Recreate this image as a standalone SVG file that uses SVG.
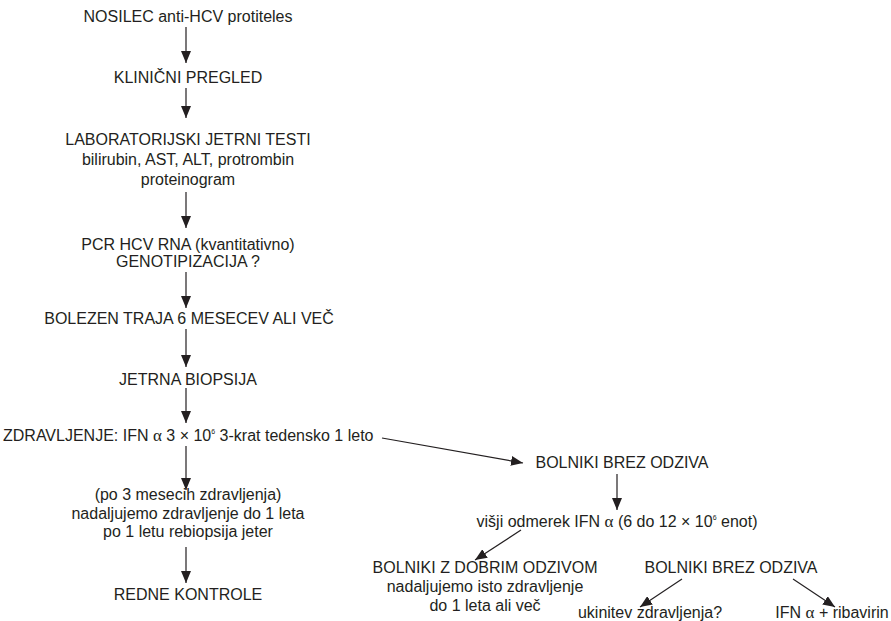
<svg xmlns="http://www.w3.org/2000/svg" width="891" height="621" viewBox="0 0 891 621">
<style>
text{font-family:"Liberation Sans",Arial,sans-serif;font-size:16px;fill:#231f20;text-anchor:middle}
.g{font-family:"Liberation Serif","Times New Roman",serif;font-size:17px}
.sup{font-size:7px}
.c line{stroke:#231f20;stroke-width:1.2;fill:none}
</style>
<defs>
<marker id="ah" markerWidth="12" markerHeight="10" refX="12" refY="5" orient="auto" markerUnits="userSpaceOnUse">
<path d="M0,0 L12,5 L0,10 Z" fill="#231f20"/>
</marker>
</defs>
<rect width="891" height="621" fill="#fff"/>
<g class="c">
<line x1="186" y1="27" x2="186" y2="63" marker-end="url(#ah)"/>
<line x1="186" y1="88" x2="186" y2="118" marker-end="url(#ah)"/>
<line x1="186" y1="192" x2="186" y2="228" marker-end="url(#ah)"/>
<line x1="186" y1="272" x2="186" y2="308" marker-end="url(#ah)"/>
<line x1="186" y1="329" x2="186" y2="367" marker-end="url(#ah)"/>
<line x1="186" y1="388" x2="186" y2="423" marker-end="url(#ah)"/>
<line x1="186" y1="446" x2="186" y2="490" marker-end="url(#ah)"/>
<line x1="186" y1="547" x2="186" y2="583" marker-end="url(#ah)"/>
<line x1="382" y1="438" x2="523" y2="463" marker-end="url(#ah)"/>
<line x1="617" y1="474" x2="617" y2="510" marker-end="url(#ah)"/>
<line x1="521" y1="530" x2="475" y2="560" marker-end="url(#ah)"/>
<line x1="682" y1="579" x2="640" y2="607" marker-end="url(#ah)"/>
<line x1="793" y1="579" x2="835" y2="607" marker-end="url(#ah)"/>
</g>
<g id="n1"><text x="188" y="22">NOSILEC anti-HCV protiteles</text></g>
<g id="n2"><text x="188" y="83">KLINIČNI PREGLED</text></g>
<g id="n3"><text x="188" y="145">LABORATORIJSKI JETRNI TESTI</text><text x="188" y="165">bilirubin, AST, ALT, protrombin</text><text x="188" y="185">proteinogram</text></g>
<g id="n4"><text x="188" y="250">PCR HCV RNA (kvantitativno)</text><text x="188" y="267">GENOTIPIZACIJA ?</text></g>
<g id="n5"><text x="189" y="324">BOLEZEN TRAJA 6 MESECEV ALI VEČ</text></g>
<g id="n6"><text x="188" y="385">JETRNA BIOPSIJA</text></g>
<g id="n7"><text x="3" y="441" style="text-anchor:start">ZDRAVLJENJE: IFN <tspan class="g">α</tspan> 3 × 10<tspan class="sup" dy="-7">6</tspan><tspan dy="7"> 3-krat tedensko 1 leto</tspan></text></g>
<g id="n8"><text x="188" y="500">(po 3 mesecih zdravljenja)</text><text x="188" y="519">nadaljujemo zdravljenje do 1 leta</text><text x="188" y="537">po 1 letu rebiopsija jeter</text></g>
<g id="n9"><text x="188" y="600">REDNE KONTROLE</text></g>
<g id="n10"><text x="622" y="468">BOLNIKI BREZ ODZIVA</text></g>
<g id="n11"><text x="617" y="527">višji odmerek IFN <tspan class="g">α</tspan> (6 do 12 × 10<tspan class="sup" dy="-7">6</tspan><tspan dy="7"> enot)</tspan></text></g>
<g id="n12"><text x="485" y="573">BOLNIKI Z DOBRIM ODZIVOM</text><text x="485" y="592">nadaljujemo isto zdravljenje</text><text x="485" y="611">do 1 leta ali več</text></g>
<g id="n13"><text x="731" y="573">BOLNIKI BREZ ODZIVA</text></g>
<g id="n14"><text x="650" y="618">ukinitev zdravljenja?</text></g>
<g id="n15"><text x="832" y="618">IFN <tspan class="g">α</tspan> + ribavirin</text></g>
</svg>
